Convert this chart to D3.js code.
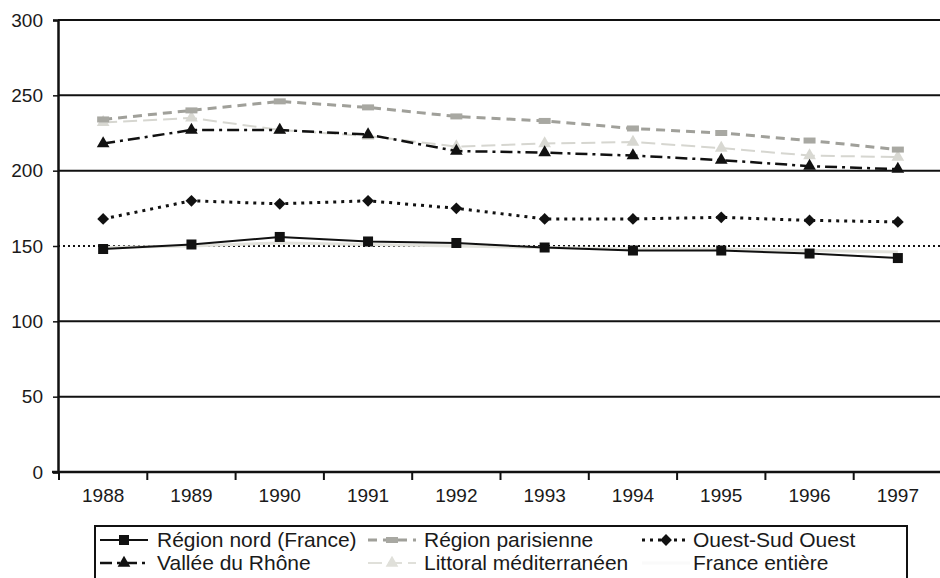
<!DOCTYPE html>
<html>
<head>
<meta charset="utf-8">
<script src="https://cdn.jsdelivr.net/npm/d3@7"></script>
<style>
  body { margin: 0; background: #fff; }
  text { font-family: "Liberation Sans", Arial, sans-serif; fill: #1a1a1a; }
</style>
</head>
<body>
<div id="container"></div>
<script>
const years = ["1988", "1989", "1990", "1991", "1992", "1993", "1994", "1995", "1996", "1997"];
const yTicks = [0, 50, 100, 150, 200, 250, 300];

const regionNord = [148, 151, 156, 153, 152, 149, 147, 147, 145, 142];
const regionParisienne = [234, 240, 246, 242, 236, 233, 228, 225, 220, 214];
const ouestSudOuest = [168, 180, 178, 180, 175, 168, 168, 169, 167, 166];
const valleeRhone = [218, 227, 227, 224, 213, 212, 210, 207, 203, 201];
const littoral = [232, 235, 227, 223, 216, 218, 219, 215, 210, 209];
const franceEntiere = [149, 150, 152, 151, 150, 149, 148, 148, 147, 146];

const seriesNames = ["Région nord (France)", "Région parisienne", "Ouest-Sud Ouest",
  "Vallée du Rhône", "Littoral méditerranéen", "France entière"];

const width = 940, height = 578;
const margin = { left: 58, top: 20, right: -2, bottom: 106 };

const series = [
  { name: seriesNames[4], values: littoral, color: "#d6d6d0", dash: "14,6", w: 2, marker: "triangle", mcolor: "#d8d8d2", legendColor: "#e0e0da" },
  { name: seriesNames[5], values: franceEntiere, color: "#e2e2dc", dash: null, w: 3, marker: null, legendColor: "#fafafa" },
  { name: seriesNames[1], values: regionParisienne, color: "#a0a09a", dash: "9,6", w: 3, marker: "rect", mcolor: "#a8a8a2" },
  { name: seriesNames[3], values: valleeRhone, color: "#111", dash: "12,5,3,5", w: 2.5, marker: "triangle", mcolor: "#111" },
  { name: seriesNames[2], values: ouestSudOuest, color: "#111", dash: "3,5", w: 3, marker: "diamond", mcolor: "#111" },
  { name: seriesNames[0], values: regionNord, color: "#111", dash: null, w: 2, marker: "square", mcolor: "#111" },
];

const svg = d3.select("#container").append("svg")
  .attr("width", width).attr("height", height);

const x = d3.scaleBand().domain(years).range([margin.left + 1, width - margin.right]);
const y = d3.scaleLinear().domain([0, 300]).range([height - margin.bottom, margin.top]);

// gridlines (150 drawn dotted)
svg.append("g").selectAll("line")
  .data(yTicks.filter(d => d > 0))
  .enter().append("line")
  .attr("x1", margin.left).attr("x2", width)
  .attr("y1", d => y(d)).attr("y2", d => y(d))
  .style("stroke", "#111")
  .style("stroke-width", 2)
  .style("stroke-dasharray", d => d === 150 ? "2,3" : null);

// y axis
const yAxis = svg.append("g")
  .attr("transform", `translate(${margin.left},0)`)
  .call(d3.axisLeft(y).tickValues(yTicks).tickSize(5).tickPadding(10));
yAxis.select(".domain").style("stroke", "#111").style("stroke-width", 2.5);
yAxis.selectAll(".tick line").style("stroke", "#111").style("stroke-width", 1.5);
yAxis.selectAll("text").style("font-size", "19px")
  .style("font-family", "'Liberation Sans', Arial, sans-serif").style("fill", "#1a1a1a");

// x axis
const xAxis = svg.append("g")
  .attr("transform", `translate(0,${y(0)})`)
  .call(d3.axisBottom(x).tickSize(0).tickPadding(17));
xAxis.select(".domain").remove();
svg.append("line")
  .attr("x1", margin.left - 6).attr("x2", width)
  .attr("y1", y(0)).attr("y2", y(0))
  .style("stroke", "#111").style("stroke-width", 2.5);
svg.append("g").selectAll("line")
  .data(years)
  .enter().append("line")
  .attr("x1", d => x(d)).attr("x2", d => x(d))
  .attr("y1", y(0)).attr("y2", y(0) + 8)
  .style("stroke", "#111").style("stroke-width", 2);
xAxis.selectAll("text").style("font-size", "19px")
  .style("font-family", "'Liberation Sans', Arial, sans-serif").style("fill", "#1a1a1a");

const cx = d => x(d) + x.bandwidth() / 2;
const line = d3.line().x((d, i) => cx(years[i])).y(d => y(d));

function drawMarker(g, type, color, px, py) {
  if (type === "square") {
    g.append("rect").attr("x", px - 5).attr("y", py - 5).attr("width", 10).attr("height", 10)
      .style("fill", color);
  } else if (type === "rect") {
    g.append("rect").attr("x", px - 6).attr("y", py - 3).attr("width", 12).attr("height", 6)
      .style("fill", color);
  } else if (type === "diamond") {
    g.append("path").attr("transform", `translate(${px},${py}) rotate(45)`)
      .attr("d", d3.symbol(d3.symbolSquare, 70)()).style("fill", color);
  } else if (type === "triangle") {
    g.append("path").attr("transform", `translate(${px},${py})`)
      .attr("d", d3.symbol(d3.symbolTriangle, 70)()).style("fill", color);
  }
}

series.forEach(s => {
  const g = svg.append("g");
  g.append("path").datum(s.values)
    .attr("d", line)
    .style("fill", "none")
    .style("stroke", s.color)
    .style("stroke-width", s.w)
    .style("stroke-dasharray", s.dash);
  if (s.marker) {
    s.values.forEach((v, i) => drawMarker(g, s.marker, s.mcolor, cx(years[i]), y(v)));
  }
});

// legend
const legend = svg.append("g");
legend.append("rect")
  .attr("x", 95).attr("y", 526).attr("width", 812).attr("height", 70)
  .style("fill", "#fff").style("stroke", "#111").style("stroke-width", 2);

const colX = [100, 368, 642];
const textX = [157, 424, 693];
const rowY = [547, 570];
seriesNames.forEach((name, j) => {
  const s = series.find(d => d.name === name);
  const col = j % 3, row = Math.floor(j / 3);
  const ly = rowY[row] - 7;
  const lc = s.legendColor || s.color;
  const lg = legend.append("g");
  lg.append("line")
    .attr("x1", colX[col]).attr("x2", colX[col] + 48)
    .attr("y1", ly).attr("y2", ly)
    .style("stroke", lc).style("stroke-width", s.w)
    .style("stroke-dasharray", s.dash);
  if (s.marker) drawMarker(lg, s.marker, s.legendColor || s.mcolor, colX[col] + 24, ly);
  lg.append("text")
    .attr("x", textX[col]).attr("y", rowY[row])
    .style("font-size", "21px")
    .text(s.name);
});
</script>
</body>
</html>
